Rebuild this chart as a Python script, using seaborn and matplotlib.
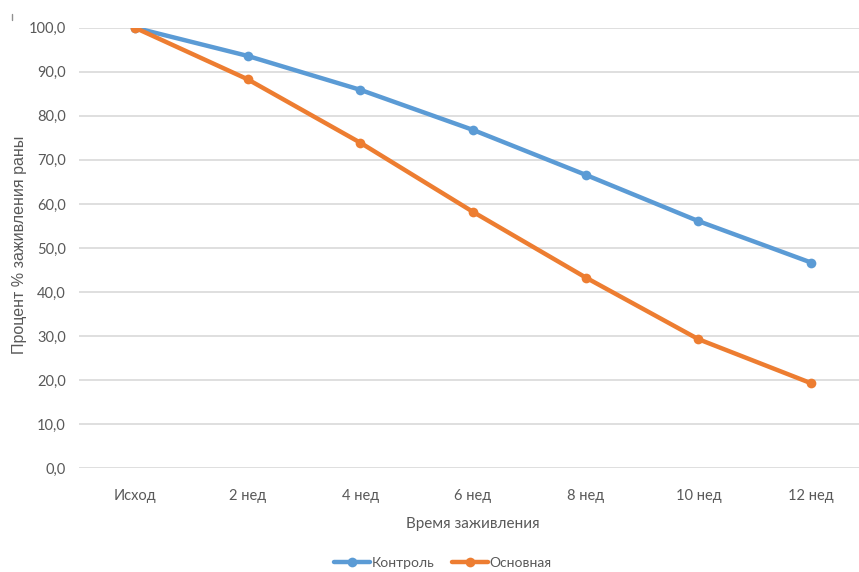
import matplotlib
matplotlib.use("Agg")
import matplotlib.pyplot as plt
import matplotlib.lines as mlines
import seaborn as sns
import pandas as pd

categories = ["Исход", "2 нед", "4 нед", "6 нед", "8 нед", "10 нед", "12 нед"]
control = [100.0, 93.6, 85.9, 76.8, 66.6, 56.1, 46.7]
main_group = [100.0, 88.3, 73.9, 58.2, 43.3, 29.3, 19.3]
series_names = ["Контроль", "Основная"]
y_ticks = [0, 10, 20, 30, 40, 50, 60, 70, 80, 90, 100]

colors = {"Контроль": "#5B9BD5", "Основная": "#ED7D31"}
text_color = "#595959"
grid_color = "#D9D9D9"

sns.set_theme(style="white")
plt.rcParams["font.family"] = ["Lato", "DejaVu Sans"]

df = pd.DataFrame({
    "pos": list(range(len(categories))) * 2,
    "value": control + main_group,
    "series": [series_names[0]] * len(categories) + [series_names[1]] * len(categories),
})

fig = plt.figure(figsize=(8.59, 5.72), dpi=100)
ax = fig.add_axes([78.5 / 859, 103.7 / 572, 789 / 859, 440.6 / 572])

for name in series_names:
    sub = df[df["series"] == name]
    sns.lineplot(data=sub, x="pos", y="value", ax=ax, color=colors[name],
                 linewidth=3.2, marker="o", markersize=7, markeredgewidth=0,
                 sort=False, legend=False, zorder=3)

ax.set_xlim(-0.5, len(categories) - 0.5)
ax.set_ylim(0, 100)
ax.set_yticks(y_ticks)
ax.set_yticklabels([f"{v:.1f}".replace(".", ",") for v in y_ticks])
ax.set_xticks(range(len(categories)))
ax.set_xticklabels(categories)

ax.grid(axis="y", color=grid_color, linewidth=1.2, zorder=0)
ax.grid(axis="x", visible=False)
for s in ax.spines.values():
    s.set_visible(False)
ax.tick_params(axis="both", length=0, labelsize=10.5, colors=text_color)
ax.tick_params(axis="y", pad=9)
ax.tick_params(axis="x", pad=15)

ax.set_xlabel("Время заживления", fontsize=11, color=text_color, labelpad=10)
ax.set_ylabel("")
fig.text(20 / 859, 1 - 245 / 572, "Процент % заживления раны", rotation=90,
         ha="center", va="center", fontsize=11.5, color=text_color,
         family=["Liberation Sans", "DejaVu Sans"])

handles = [mlines.Line2D([], [], color=colors[n], linewidth=3.2, marker="o",
                         markersize=7, markeredgewidth=0) for n in series_names]
fig.legend(handles, series_names, loc="center", bbox_to_anchor=(443 / 859, 1 - 563 / 572),
           ncol=2, frameon=False, fontsize=10, labelcolor=text_color,
           handlelength=2.6, handletextpad=0.1, columnspacing=1.3)

fig.add_artist(mlines.Line2D([12 / 859, 12 / 859], [1 - 14 / 572, 1 - 20 / 572],
                             color="#909090", linewidth=1))

fig.savefig("out.png", dpi=100, facecolor="white")
